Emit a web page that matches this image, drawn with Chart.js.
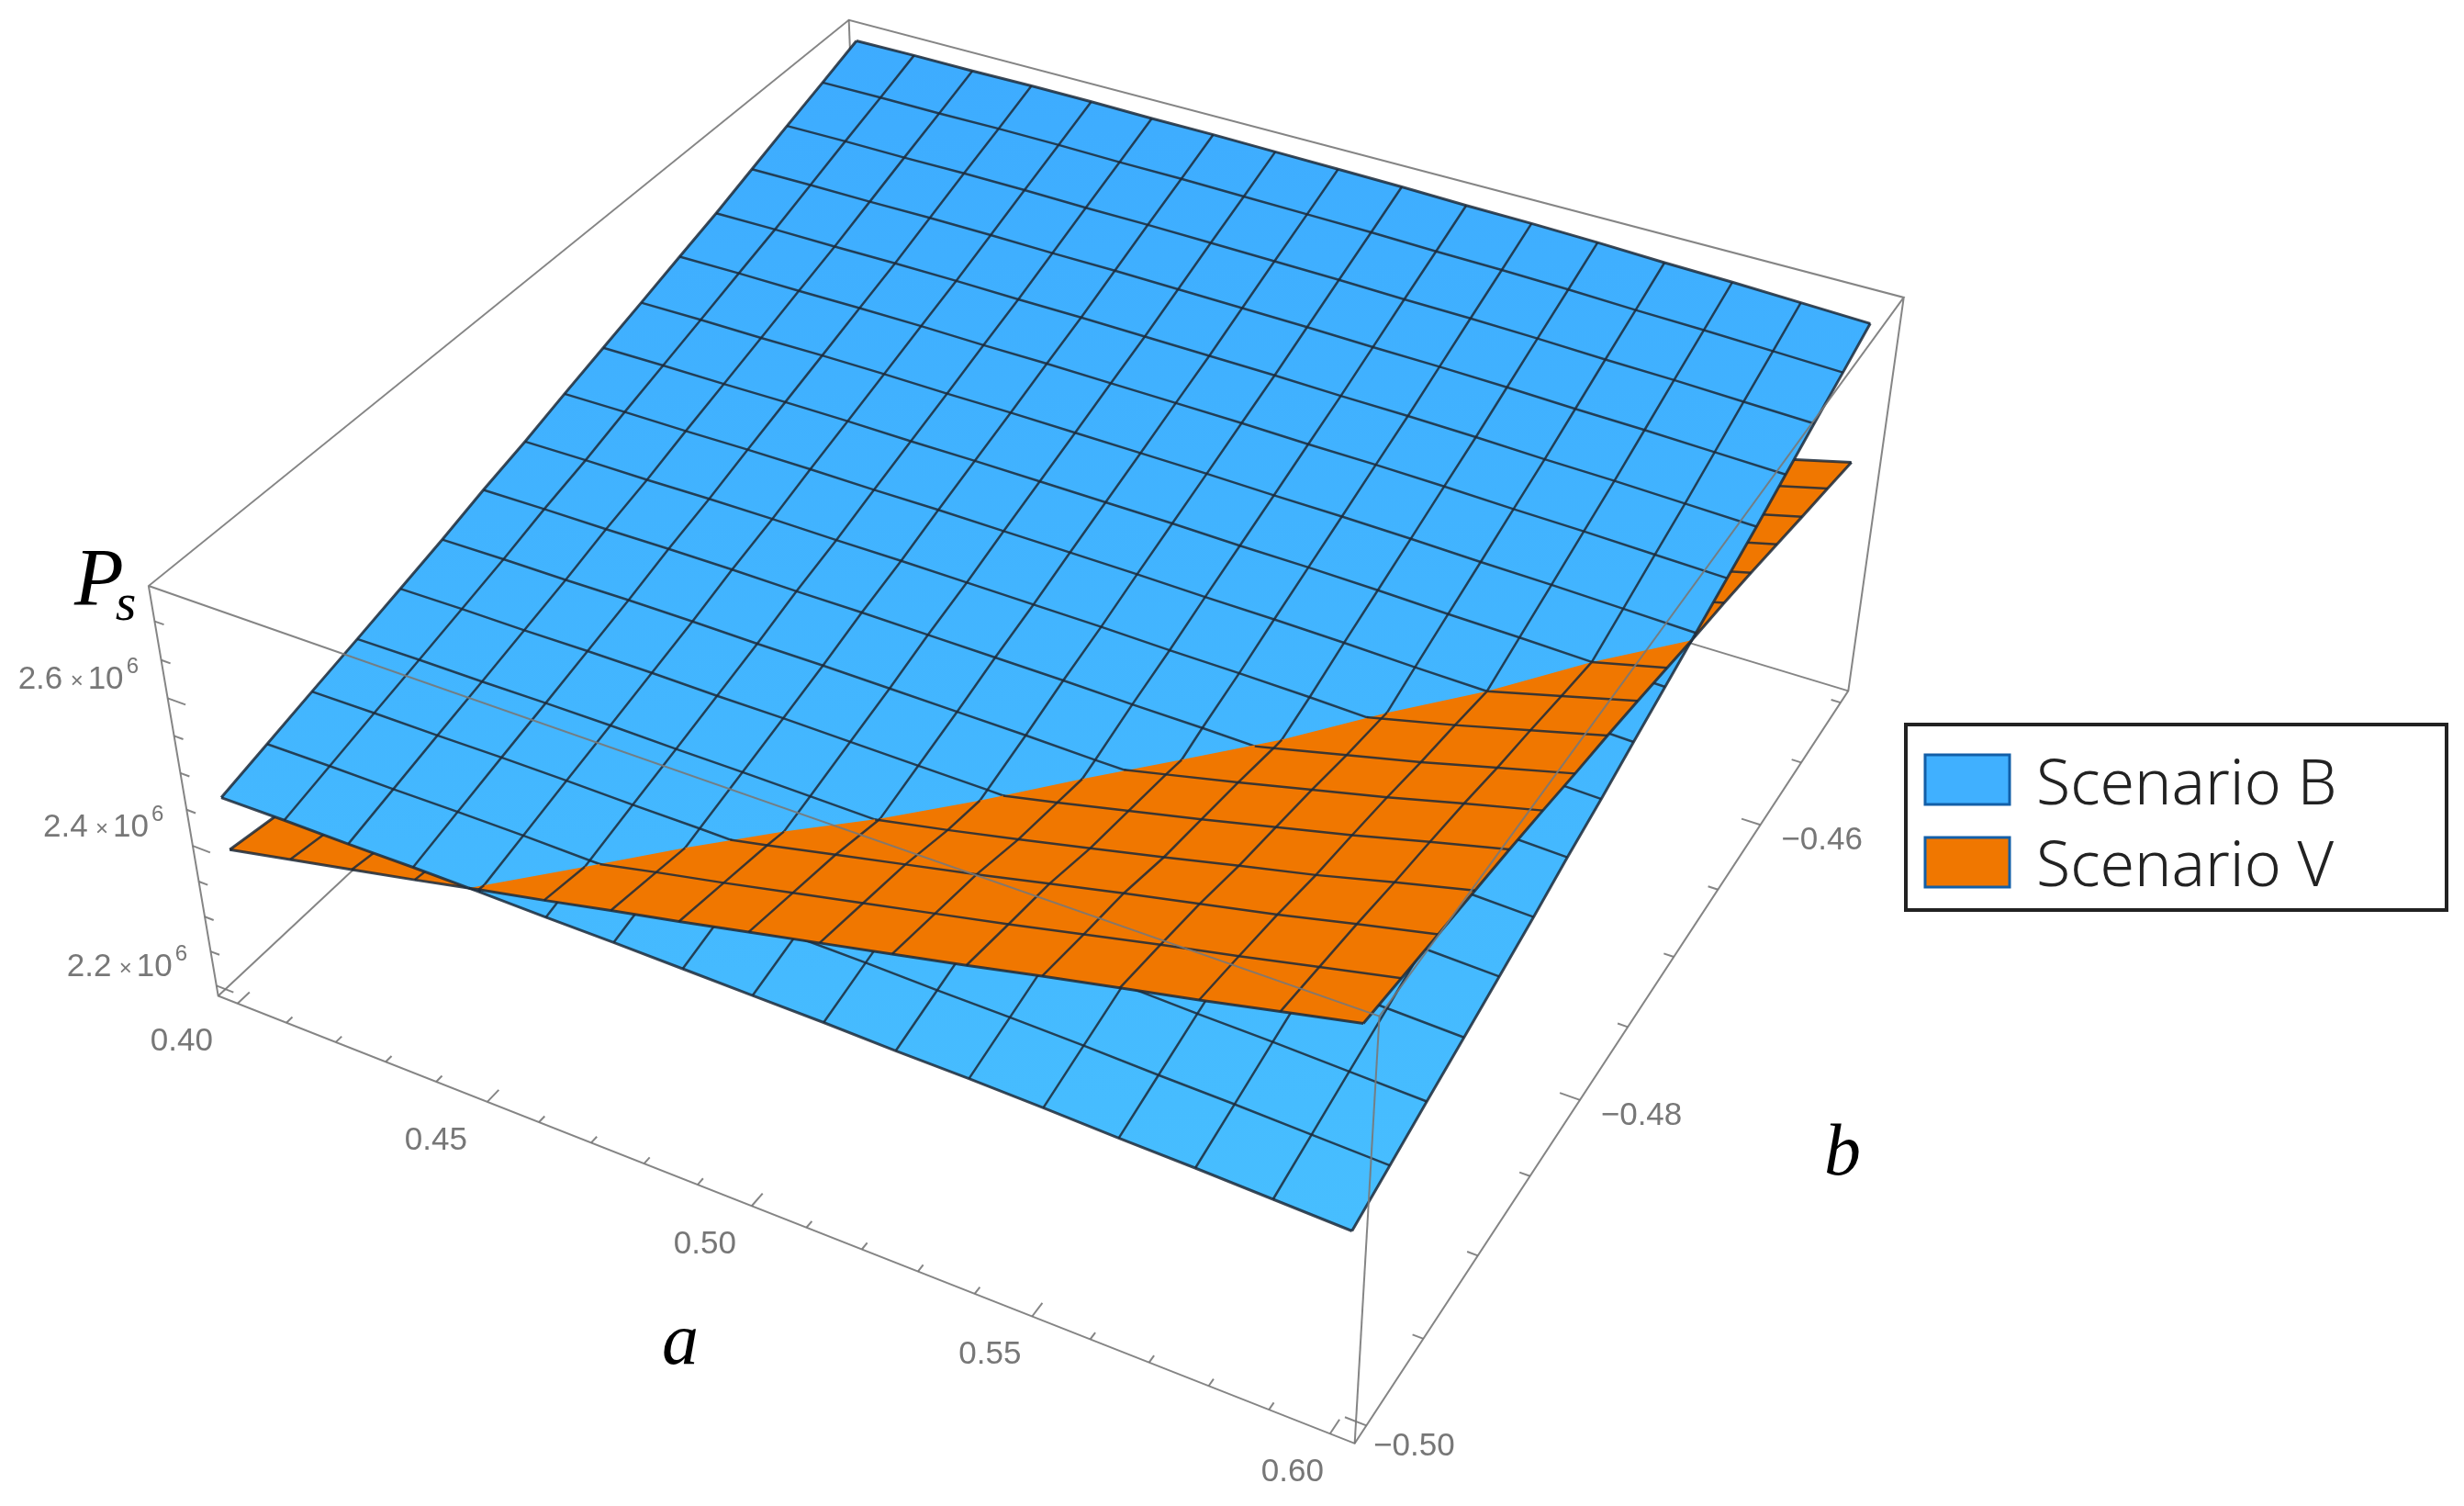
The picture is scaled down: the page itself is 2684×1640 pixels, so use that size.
<!DOCTYPE html>
<html>
<head>
<meta charset="utf-8">
<title>Ps surfaces</title>
<script src="https://cdn.jsdelivr.net/npm/chart.js@4"></script>
<style>
    body { margin: 0; background: #fff; }
    canvas { display: block; filter: blur(0.6px); }
</style>
</head>
<body>
<canvas id="chart" width="2684" height="1640"></canvas>
<script>
// Mesh lines of both surfaces
const meshA = [0.4, 0.4125, 0.425, 0.4375, 0.45, 0.4625, 0.475, 0.4875, 0.5, 0.5125, 0.525, 0.5375, 0.55, 0.5625, 0.575, 0.5875, 0.6];
const meshB = [-0.5, -0.4969, -0.4938, -0.4906, -0.4875, -0.4844, -0.4813, -0.4781, -0.475, -0.4719, -0.4688, -0.4656, -0.4625, -0.4594, -0.4563, -0.4531, -0.45];

// Ps in thousands, one row per meshB value
const scenarioB = [
    [2458, 2459, 2459, 2460, 2460, 2459, 2459, 2458, 2457, 2456, 2454, 2453, 2451, 2448, 2446, 2443, 2440],
    [2474, 2475, 2475, 2476, 2476, 2475, 2475, 2474, 2473, 2472, 2470, 2469, 2467, 2464, 2462, 2459, 2456],
    [2490, 2491, 2491, 2492, 2492, 2491, 2491, 2490, 2489, 2488, 2486, 2485, 2483, 2480, 2478, 2475, 2472],
    [2506, 2507, 2507, 2508, 2508, 2507, 2507, 2506, 2505, 2504, 2502, 2501, 2499, 2496, 2494, 2491, 2488],
    [2522, 2523, 2523, 2524, 2524, 2523, 2523, 2522, 2521, 2520, 2518, 2517, 2515, 2512, 2510, 2507, 2504],
    [2538, 2539, 2539, 2540, 2540, 2539, 2539, 2538, 2537, 2536, 2534, 2533, 2531, 2528, 2526, 2523, 2520],
    [2556, 2557, 2557, 2558, 2558, 2557, 2557, 2556, 2555, 2554, 2552, 2551, 2549, 2546, 2544, 2541, 2538],
    [2572, 2573, 2573, 2574, 2574, 2573, 2573, 2572, 2571, 2570, 2568, 2567, 2565, 2562, 2560, 2557, 2554],
    [2590, 2591, 2591, 2592, 2592, 2591, 2591, 2590, 2589, 2588, 2586, 2585, 2583, 2580, 2578, 2575, 2572],
    [2607, 2608, 2608, 2609, 2609, 2608, 2608, 2607, 2606, 2605, 2603, 2602, 2600, 2597, 2595, 2592, 2589],
    [2624, 2625, 2625, 2626, 2626, 2625, 2625, 2624, 2623, 2622, 2620, 2619, 2617, 2614, 2612, 2609, 2606],
    [2642, 2643, 2643, 2644, 2644, 2643, 2643, 2642, 2641, 2640, 2638, 2637, 2635, 2632, 2630, 2627, 2624],
    [2659, 2660, 2660, 2661, 2661, 2660, 2660, 2659, 2658, 2657, 2655, 2654, 2652, 2649, 2647, 2644, 2641],
    [2678, 2679, 2679, 2680, 2680, 2679, 2679, 2678, 2677, 2676, 2674, 2673, 2671, 2668, 2666, 2663, 2660],
    [2697, 2698, 2698, 2699, 2699, 2698, 2698, 2697, 2696, 2695, 2693, 2692, 2690, 2687, 2685, 2682, 2679],
    [2716, 2717, 2717, 2718, 2718, 2717, 2717, 2716, 2715, 2714, 2712, 2711, 2709, 2706, 2704, 2701, 2698],
    [2735, 2736, 2736, 2737, 2737, 2736, 2736, 2735, 2734, 2733, 2731, 2730, 2728, 2725, 2723, 2720, 2717]
];
const scenarioV = [
    [2386, 2405, 2424, 2443, 2463, 2482, 2502, 2521, 2541, 2561, 2581, 2601, 2622, 2642, 2662, 2683, 2704],
    [2376, 2395, 2414, 2433, 2453, 2472, 2492, 2511, 2531, 2551, 2571, 2591, 2612, 2633, 2653, 2674, 2695],
    [2366, 2385, 2404, 2423, 2443, 2462, 2482, 2501, 2521, 2541, 2561, 2582, 2603, 2623, 2643, 2665, 2686],
    [2357, 2376, 2394, 2413, 2433, 2452, 2472, 2488, 2506, 2525, 2545, 2566, 2587, 2609, 2630, 2654, 2677],
    [2347, 2366, 2384, 2403, 2423, 2442, 2462, 2478, 2496, 2515, 2535, 2556, 2577, 2599, 2621, 2645, 2668],
    [2336, 2355, 2374, 2393, 2412, 2431, 2451, 2467, 2485, 2505, 2525, 2546, 2567, 2589, 2611, 2635, 2658],
    [2324, 2343, 2362, 2381, 2400, 2419, 2438, 2455, 2473, 2493, 2513, 2534, 2555, 2577, 2599, 2623, 2647],
    [2314, 2333, 2352, 2371, 2390, 2409, 2428, 2445, 2463, 2483, 2503, 2524, 2545, 2567, 2589, 2613, 2637],
    [2303, 2322, 2341, 2360, 2379, 2398, 2417, 2434, 2452, 2472, 2492, 2513, 2534, 2556, 2578, 2602, 2626],
    [2291, 2310, 2329, 2348, 2367, 2386, 2405, 2425, 2445, 2466, 2486, 2507, 2528, 2549, 2570, 2592, 2614],
    [2276, 2295, 2313, 2332, 2351, 2370, 2389, 2409, 2429, 2450, 2470, 2492, 2513, 2535, 2557, 2580, 2602],
    [2265, 2284, 2302, 2321, 2340, 2359, 2378, 2398, 2418, 2439, 2459, 2481, 2502, 2524, 2546, 2569, 2591],
    [2253, 2272, 2290, 2309, 2328, 2347, 2366, 2386, 2406, 2427, 2447, 2469, 2490, 2512, 2534, 2557, 2579],
    [2240, 2259, 2277, 2296, 2315, 2334, 2353, 2373, 2393, 2414, 2434, 2456, 2477, 2499, 2521, 2544, 2566],
    [2227, 2246, 2264, 2283, 2302, 2321, 2340, 2360, 2380, 2401, 2421, 2443, 2464, 2486, 2508, 2531, 2553],
    [2214, 2233, 2251, 2270, 2289, 2308, 2327, 2347, 2367, 2388, 2408, 2430, 2451, 2473, 2495, 2518, 2540],
    [2201, 2220, 2238, 2257, 2276, 2295, 2314, 2334, 2354, 2375, 2395, 2417, 2438, 2460, 2482, 2505, 2527]
];

// Axis ticks
const aTicks = [0.40, 0.41, 0.42, 0.43, 0.44, 0.45, 0.46, 0.47, 0.48, 0.49, 0.50, 0.51, 0.52, 0.53, 0.54, 0.55, 0.56, 0.57, 0.58, 0.59, 0.60];
const aLabels = ['0.40', '0.45', '0.50', '0.55', '0.60'];
const bTicks = [-0.50, -0.495, -0.49, -0.485, -0.48, -0.475, -0.47, -0.465, -0.46, -0.455, -0.45];
const bLabels = ['-0.50', '-0.48', '-0.46'];
const pTicks = [2200, 2250, 2300, 2350, 2400, 2450, 2500, 2550, 2600, 2650, 2700];
const pLabels = ['2.2', '2.4', '2.6'];

// Box limits
const aRange = [0.396, 0.604];
const bRange = [-0.501, -0.449];
const pRange = [2185, 2745];

// Where box corners and some tick marks land on the canvas: [a, b, Ps, x, y]
const cameraAnchors = [
    [0.396, -0.501, 2185, 234, 1083], [0.604, -0.501, 2185, 1477, 1571], [0.604, -0.449, 2185, 2015, 748],
    [0.396, -0.501, 2745, 163, 637], [0.604, -0.501, 2745, 1503, 1106], [0.604, -0.449, 2745, 2075, 325], [0.396, -0.449, 2745, 924, 24],
    [0.40, -0.501, 2185, 263, 1094], [0.45, -0.501, 2185, 534, 1201], [0.50, -0.501, 2185, 822, 1314],
    [0.604, -0.49, 2185, 1606, 1370], [0.604, -0.48, 2185, 1718, 1200], [0.604, -0.46, 2185, 1917, 898],
    [0.396, -0.501, 2600, 182, 757], [0.396, -0.501, 2400, 206, 922]
];

const BLUE = '#40B0FF';
const ORANGE = '#F07700';
const MESH = 'rgba(28,42,58,0.85)';
const BOX = 'rgba(120,120,120,0.9)';

const toUnit = (a, b, p) => [
    (a - aRange[0]) / (aRange[1] - aRange[0]),
    (b - bRange[0]) / (bRange[1] - bRange[0]),
    (p - pRange[0]) / (pRange[1] - pRange[0])
];

// Least squares fit of the perspective camera to the anchors
const fitCamera = (anchors) => {
    const rows = [];
    const rhs = [];
    anchors.forEach(([a, b, p, x, y]) => {
        const [u, v, w] = toUnit(a, b, p);
        rows.push([u, v, w, 1, 0, 0, 0, 0, -x * u, -x * v, -x * w]);
        rhs.push(x);
        rows.push([0, 0, 0, 0, u, v, w, 1, -y * u, -y * v, -y * w]);
        rhs.push(y);
    });
    const n = 11;
    const m = [];
    for (let i = 0; i < n; i++) {
        m.push([]);
        for (let j = 0; j < n; j++) {
            m[i].push(rows.reduce((sum, r) => sum + r[i] * r[j], 0));
        }
        m[i].push(rows.reduce((sum, r, k) => sum + r[i] * rhs[k], 0));
    }
    for (let i = 0; i < n; i++) {
        let pivot = i;
        for (let k = i + 1; k < n; k++) {
            if (Math.abs(m[k][i]) > Math.abs(m[pivot][i])) pivot = k;
        }
        [m[i], m[pivot]] = [m[pivot], m[i]];
        for (let k = 0; k < n; k++) {
            if (k === i) continue;
            const f = m[k][i] / m[i][i];
            for (let j = i; j <= n; j++) m[k][j] -= f * m[i][j];
        }
    }
    return m.map((row, i) => row[n] / row[i]);
};

const camera = fitCamera(cameraAnchors);

const project = (a, b, p) => {
    const [u, v, w] = toUnit(a, b, p);
    const d = camera[8] * u + camera[9] * v + camera[10] * w + 1;
    return {
        x: (camera[0] * u + camera[1] * v + camera[2] * w + camera[3]) / d,
        y: (camera[4] * u + camera[5] * v + camera[6] * w + camera[7]) / d
    };
};

const canvas = document.getElementById('chart');
const gradient = canvas.getContext('2d').createLinearGradient(0, 0, 0, 1340);
gradient.addColorStop(0, '#3DABFF');
gradient.addColorStop(1, '#47BEFF');

// Datasets are collected in paint order and reversed at the end
const layers = [];

const addLine = (points, color, width) => {
    layers.push({
        data: points, showLine: true, borderColor: color, borderWidth: width,
        pointRadius: 0, tension: 0, fill: false
    });
};

const addShape = (points, color) => {
    layers.push({
        data: points, showLine: true, borderColor: 'rgba(0,0,0,0)', borderWidth: 0,
        pointRadius: 0, tension: 0, fill: 'shape', backgroundColor: color
    });
};

const meshPoint = (table, i, j) => project(meshA[i], meshB[j], table[j][i]);
const last = meshA.length - 1;

const outline = (table) => {
    const points = [];
    for (let i = 0; i <= last; i++) points.push(meshPoint(table, i, 0));
    for (let j = 1; j <= last; j++) points.push(meshPoint(table, last, j));
    for (let i = last - 1; i >= 0; i--) points.push(meshPoint(table, i, last));
    for (let j = last - 1; j > 0; j--) points.push(meshPoint(table, 0, j));
    return points;
};

const addMesh = (table) => {
    for (let k = 0; k <= last; k++) {
        const edge = k === 0 || k === last;
        addLine(meshA.map((a, i) => meshPoint(table, i, k)), MESH, edge ? 3 : 2.5);
        addLine(meshB.map((b, j) => meshPoint(table, k, j)), MESH, edge ? 3 : 2.5);
    }
};

// Height gap between the two surfaces at a mesh node
const gap = (i, j) => scenarioV[j][i] - scenarioB[j][i];

// Point of the V surface between two nodes where the gap is zero
const crossing = (i1, j1, i2, j2) => {
    const t = gap(i1, j1) / (gap(i1, j1) - gap(i2, j2));
    return project(
        meshA[i1] + t * (meshA[i2] - meshA[i1]),
        meshB[j1] + t * (meshB[j2] - meshB[j1]),
        scenarioV[j1][i1] + t * (scenarioV[j2][i2] - scenarioV[j1][i1])
    );
};

// The parts of a V mesh line that lie above the B surface
const addVisibleLine = (nodes, width) => {
    let run = [];
    nodes.forEach(([i, j], k) => {
        if (gap(i, j) >= 0) run.push(meshPoint(scenarioV, i, j));
        const next = nodes[k + 1];
        if (next && (gap(i, j) >= 0) !== (gap(next[0], next[1]) >= 0)) {
            run.push(crossing(i, j, next[0], next[1]));
            if (gap(i, j) >= 0) {
                addLine(run, MESH, width);
                run = [];
            }
        }
    });
    if (run.length > 1) addLine(run, MESH, width);
};

// Outline of the V region above B: front edge, right edge, then the intersection back
const visibleOutline = () => {
    const points = [];
    let first = 0;
    while (gap(first, 0) < 0) first++;
    points.push(crossing(first - 1, 0, first, 0));
    for (let i = first; i <= last; i++) points.push(meshPoint(scenarioV, i, 0));
    let top = 0;
    while (top < last && gap(last, top + 1) >= 0) {
        top++;
        points.push(meshPoint(scenarioV, last, top));
    }
    for (let i = last; i >= first; i--) {
        let j = 0;
        while (j < last && gap(i, j + 1) >= 0) j++;
        if (j < last) points.push(crossing(i, j, i, j + 1));
    }
    return points;
};

const corner = (u, v, w) => project(aRange[u], bRange[v], pRange[w]);

// Box edges behind the surfaces
addLine([corner(0, 0, 0), corner(0, 1, 0), corner(1, 1, 0)], BOX, 2);
addLine([corner(0, 1, 0), corner(0, 1, 1)], BOX, 2);

addShape(outline(scenarioV), ORANGE);
addMesh(scenarioV);
addShape(outline(scenarioB), gradient);
addMesh(scenarioB);
addShape(visibleOutline(), ORANGE);
for (let k = 0; k <= last; k++) {
    const edge = k === 0 || k === last;
    addVisibleLine(meshA.map((a, i) => [i, k]), edge ? 3 : 2.5);
    addVisibleLine(meshB.map((b, j) => [k, j]), edge ? 3 : 2.5);
}

// Remaining box edges
addLine([corner(0, 0, 1), corner(1, 0, 1), corner(1, 1, 1), corner(0, 1, 1), corner(0, 0, 1), corner(0, 0, 0), corner(1, 0, 0), corner(1, 1, 0), corner(1, 1, 1)], BOX, 2);
addLine([corner(1, 0, 0), corner(1, 0, 1)], BOX, 2);

// Tick marks
aTicks.forEach((a, i) => {
    const size = i % 5 === 0 ? 0.0008 : 0.0004;
    addLine([project(a, bRange[0], pRange[0]), project(a, bRange[0] + size, pRange[0])], BOX, 2);
});
bTicks.forEach((b, i) => {
    const size = i % 4 === 0 ? 0.0035 : 0.0018;
    addLine([project(aRange[1], b, pRange[0]), project(aRange[1] - size, b, pRange[0])], BOX, 2);
});
pTicks.forEach((p, i) => {
    const size = i % 4 === 0 ? 0.0035 : 0.0018;
    addLine([project(aRange[0], bRange[0], p), project(aRange[0] + size, bRange[0], p)], BOX, 2);
});

const drawText = (ctx, text, x, y, font, color, align) => {
    ctx.font = font;
    ctx.fillStyle = color;
    ctx.textAlign = align || 'center';
    ctx.textBaseline = 'middle';
    ctx.fillText(text, x, y);
};

// Tick labels, axis titles and the legend
const annotationPlugin = {
    id: 'annotations',
    afterDatasetsDraw: (chart) => {
        const ctx = chart.ctx;
        const tickFont = '35px "Liberation Sans"';
        const smallFont = '24px "Liberation Sans"';
        const gray = '#777777';

        ctx.save();
        aLabels.forEach((label) => {
            const a = Number(label);
            const pos = project(a, bRange[0], pRange[0]);
            drawText(ctx, label, pos.x - 61 + (a - 0.4) * 100, pos.y + 42, tickFont, gray);
        });
        bLabels.forEach((label, i) => {
            const pos = project(aRange[1], Number(label), pRange[0]);
            const dx = i === 0 ? 52 : 67;
            const dy = i === 0 ? 23 : 17;
            drawText(ctx, '\u2212' + label.slice(1), pos.x + dx, pos.y + dy, tickFont, gray);
        });
        pLabels.forEach((label) => {
            const pos = project(aRange[0], bRange[0], Number(label) * 1000);
            const left = pos.x - 163;
            const y = pos.y - 20;
            drawText(ctx, label, left, y, tickFont, gray, 'left');
            drawText(ctx, '\u00D7', left + 57, y + 2, smallFont, gray, 'left');
            drawText(ctx, '10', left + 76, y, tickFont, gray, 'left');
            drawText(ctx, '6', left + 118, y - 14, smallFont, gray, 'left');
        });

        const titleFont = 'italic 80px "Liberation Serif"';
        drawText(ctx, 'a', 741, 1464, titleFont, '#000');
        drawText(ctx, 'b', 2007, 1258, titleFont, '#000');
        drawText(ctx, 'P', 108, 635, 'italic 88px "Liberation Serif"', '#000');
        drawText(ctx, 's', 137, 660, 'italic 58px "Liberation Serif"', '#000');

        // Legend box
        ctx.strokeStyle = '#222';
        ctx.lineWidth = 4;
        ctx.strokeRect(2076, 789, 589, 202);
        ctx.lineWidth = 3;
        ctx.strokeStyle = '#125FA8';
        ctx.fillStyle = BLUE;
        ctx.fillRect(2097, 822, 92, 54);
        ctx.strokeRect(2097, 822, 92, 54);
        ctx.fillStyle = ORANGE;
        ctx.fillRect(2097, 912, 92, 54);
        ctx.strokeRect(2097, 912, 92, 54);
        const legendFont = '300 68px "Noto Sans"';
        drawText(ctx, 'Scenario B', 2218, 857, legendFont, '#222', 'left');
        drawText(ctx, 'Scenario V', 2218, 946, legendFont, '#222', 'left');
        ctx.restore();
    }
};

new Chart(canvas, {
    type: 'scatter',
    data: { datasets: layers.reverse() },
    options: {
        responsive: false,
        animation: false,
        layout: { padding: 0 },
        plugins: { legend: { display: false }, tooltip: { enabled: false } },
        scales: {
            x: { type: 'linear', display: false, min: 0, max: 2684 },
            y: { type: 'linear', display: false, min: 0, max: 1640, reverse: true }
        }
    },
    plugins: [annotationPlugin]
});
</script>
</body>
</html>
